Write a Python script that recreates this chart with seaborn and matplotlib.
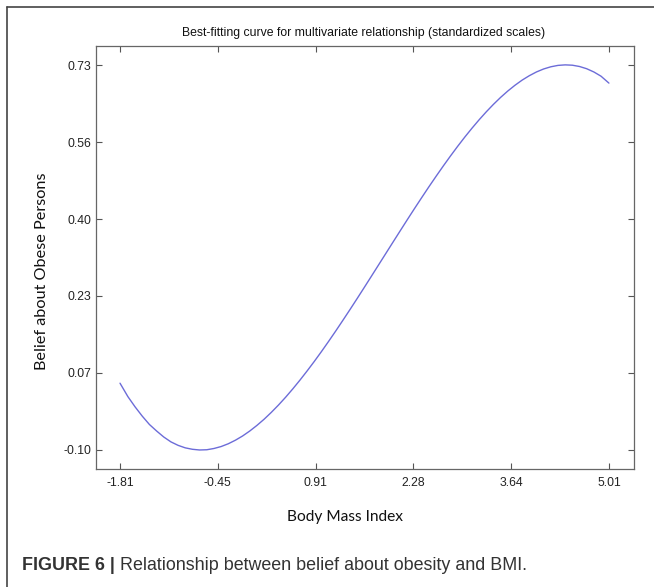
import matplotlib
matplotlib.use("Agg")
import matplotlib.pyplot as plt
import seaborn as sns
import pandas as pd
from matplotlib.lines import Line2D

# ---- data ----
bmi = [-1.81, -1.7, -1.6, -1.5, -1.4, -1.3, -1.2, -1.1, -1.0, -0.9, -0.8,
       -0.7, -0.6, -0.5, -0.4, -0.3, -0.2, -0.1, 0.0, 0.1, 0.2, 0.3, 0.4,
       0.5, 0.6, 0.7, 0.8, 0.9, 1.0, 1.1, 1.2, 1.3, 1.4, 1.5, 1.6, 1.7, 1.8,
       1.9, 2.0, 2.1, 2.2, 2.3, 2.4, 2.5, 2.6, 2.7, 2.8, 2.9, 3.0, 3.1, 3.2,
       3.3, 3.4, 3.5, 3.6, 3.7, 3.8, 3.9, 4.0, 4.1, 4.2, 4.3, 4.4, 4.5, 4.6,
       4.7, 4.8, 4.9, 5.01]
belief = [0.044, 0.015, -0.007, -0.027, -0.045, -0.059, -0.072, -0.0825,
          -0.090, -0.0954, -0.0985, -0.1000, -0.0995, -0.0968, -0.0926,
          -0.0866, -0.0789, -0.0698, -0.0591, -0.0470, -0.0337, -0.0190,
          -0.0032, 0.0137, 0.0317, 0.0506, 0.0704, 0.0909, 0.1122, 0.1342,
          0.1567, 0.1798, 0.2032, 0.2270, 0.2511, 0.2754, 0.2998, 0.3242,
          0.3486, 0.3729, 0.3971, 0.4210, 0.4445, 0.4677, 0.4903, 0.5124,
          0.5339, 0.5547, 0.5747, 0.5938, 0.6120, 0.6292, 0.6453, 0.6603,
          0.6740, 0.6864, 0.6975, 0.7070, 0.7151, 0.7215, 0.7262, 0.7292,
          0.7303, 0.7296, 0.7268, 0.7220, 0.7150, 0.7059, 0.691]

x_tick_values = [-1.81, -0.446, 0.918, 2.282, 3.646, 5.01]
x_tick_labels = ["-1.81", "-0.45", "0.91", "2.28", "3.64", "5.01"]
y_tick_values = [-0.10, 0.066, 0.232, 0.398, 0.564, 0.73]
y_tick_labels = ["-0.10", "0.07", "0.23", "0.40", "0.56", "0.73"]

title = "Best-fitting curve for multivariate relationship (standardized scales)"
x_label = "Body Mass Index"
y_label = "Belief about Obese Persons"
caption_bold = "FIGURE 6 |"
caption_rest = " Relationship between belief about obesity and BMI."

df = pd.DataFrame({"bmi": bmi, "belief": belief})

sns.set_style("white")
plt.rcParams["font.family"] = ["Liberation Sans", "DejaVu Sans"]

W, H = 654, 587
fig = plt.figure(figsize=(W / 100, H / 100), dpi=100)
ax = fig.add_axes([96 / W, 1 - 469 / H, 538 / W, 423 / H])

sns.lineplot(data=df, x="bmi", y="belief", ax=ax, color="#6c6cd8",
             linewidth=1.0, sort=False)

ax.set_xlim(-2.145, 5.36)
ax.set_ylim(-0.141, 0.771)
ax.set_xticks(x_tick_values)
ax.set_xticklabels(x_tick_labels)
ax.set_yticks(y_tick_values)
ax.set_yticklabels(y_tick_labels)
ax.set_xlabel("")
ax.set_ylabel("")

ax.tick_params(axis="both", direction="in", length=4, width=0.8,
               color="#555555", labelsize=8.8, labelcolor="#222222",
               top=True, right=True, bottom=True, left=True)
ax.tick_params(axis="x", pad=6)
ax.tick_params(axis="y", pad=3.5)
for s in ax.spines.values():
    s.set_color("#666666")
    s.set_linewidth(0.9)
    s.set_visible(True)

# title
fig.text(364 / W, 1 - 33 / H, title, ha="center", va="center",
         fontsize=8.8, color="#111111")

# axis labels
fig.text(345 / W, 1 - 517 / H, x_label, ha="center", va="center",
         fontsize=11.2, family=["Lato", "DejaVu Sans"], color="#111111")
fig.text(42 / W, 1 - 271 / H, y_label, ha="center", va="center",
         rotation=90, fontsize=11.7, family=["Lato", "DejaVu Sans"],
         color="#111111")

# caption
t1 = fig.text(22 / W, 1 - 565 / H, caption_bold, ha="left", va="center",
              fontsize=12.9, fontweight="bold", color="#333333")
plt.annotate(caption_rest, xy=(1, 0.5), xycoords=t1, ha="left",
             va="center", fontsize=12.9, color="#333333",
             annotation_clip=False)

# frame lines (top and left)
fig.add_artist(Line2D([7 / W, 7 / W], [0, 1 - 7 / H], transform=fig.transFigure,
                      color="#444444", linewidth=1.2))
fig.add_artist(Line2D([7 / W, 1], [1 - 7 / H, 1 - 7 / H], transform=fig.transFigure,
                      color="#444444", linewidth=1.2))

fig.savefig("out.png", dpi=100, facecolor="white")
